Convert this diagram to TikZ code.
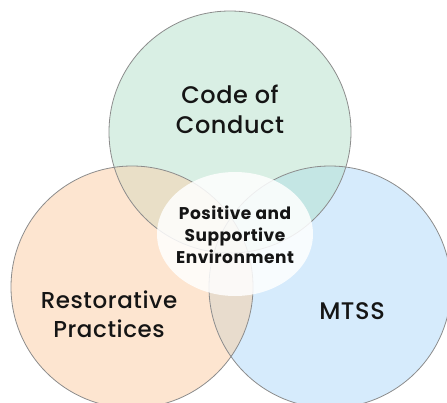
\documentclass[tikz,border=0pt]{standalone}
\usepackage{fontspec}
\setmainfont{Poppins}
\newfontfamily\popmed[LetterSpace=2.5]{Poppins Medium}
\newfontfamily\popbold[LetterSpace=3]{Poppins Bold}
\definecolor{cgreen}{HTML}{D9EFE4}
\definecolor{cpeach}{HTML}{FDE5D0}
\definecolor{cblue}{HTML}{D6EBFC}
\definecolor{ctl}{HTML}{E9DFC7}
\definecolor{ctr}{HTML}{C4E6E4}
\definecolor{clr}{HTML}{E8DCCD}
\definecolor{call}{HTML}{DAD8C8}
\definecolor{cline}{HTML}{8C8C8C}
\definecolor{ctext}{HTML}{151515}
\begin{document}
\begin{tikzpicture}[x=1pt,y=-1pt,
  ring/.style={draw=cline,line width=0.8pt},
  biglabel/.style={align=center,text=ctext,font=\popmed\fontsize{24}{30}\selectfont},
  midlabel/.style={align=center,text=ctext,font=\popbold\fontsize{17}{22}\selectfont}]
\useasboundingbox (0,0) rectangle (447,402);
\def\topC{(230,132) circle[radius=121pt]}
\def\leftC{(132,287) circle[radius=121pt]}
\def\rightC{(330,287) circle[radius=121pt]}
\fill[cgreen] \topC;
\fill[cpeach] \leftC;
\fill[cblue] \rightC;
\begin{scope}
  \clip \topC;
  \fill[ctl] \leftC;
  \fill[ctr] \rightC;
\end{scope}
\begin{scope}
  \clip \leftC;
  \fill[clr] \rightC;
  \clip \rightC;
  \fill[call] \topC;
\end{scope}
\draw[ring] \topC;
\draw[ring] \leftC;
\draw[ring] \rightC;
\fill[white,fill opacity=0.85] (235,234) ellipse[x radius=78pt,y radius=62pt];
\node[biglabel] (code) at (230,109) {Code of\\Conduct};
\node[biglabel,font=\popmed\fontsize{23}{29}\selectfont] (rest) at (109,314) {Restorative\\Practices};
\node[biglabel] (mtss) at (352,311) {MTSS};
\node[midlabel] (env) at (235,235) {Positive and\\Supportive\\Environment};
\end{tikzpicture}
\end{document}
